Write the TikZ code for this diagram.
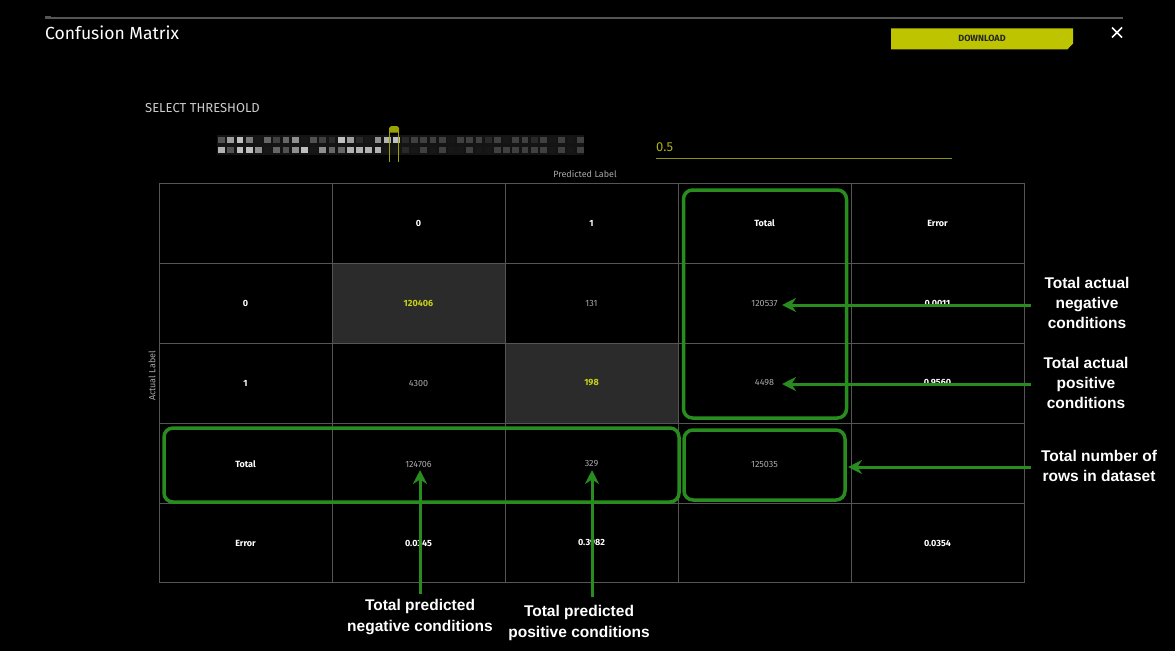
\documentclass[tikz,border=0pt]{standalone}
\usepackage{fontspec}
\setmainfont{Fira Sans}
\newfontfamily\annfont{Liberation Sans}
\usetikzlibrary{arrows.meta}
\definecolor{grn}{RGB}{40,140,30}
\definecolor{lime}{RGB}{190,197,0}
\definecolor{ylw}{RGB}{200,210,20}
\definecolor{gridc}{RGB}{85,85,85}
\definecolor{cellg}{RGB}{43,43,43}
\definecolor{handlec}{RGB}{155,163,0}
\definecolor{valc}{RGB}{170,170,170}
\tikzset{
  hdr/.style={font=\bfseries\fontsize{9}{10}\selectfont, text=white, inner sep=1pt},
  val/.style={font=\fontsize{9}{10}\selectfont, text=valc, inner sep=1pt},
  diagv/.style={font=\bfseries\fontsize{9}{10}\selectfont, text=ylw, inner sep=1pt},
  gbox/.style={draw=grn, line width=3.5pt, rounded corners=9pt},
  garr/.style={draw=grn, line width=3pt, -{Stealth[length=14pt,width=14pt,inset=4.5pt]}},
  ann/.style={font=\annfont\bfseries\fontsize{15.5}{20.3}\selectfont, text=white, align=center, inner sep=0pt},
  gridl/.style={draw=gridc, line width=0.9pt}
}
\begin{document}
\begin{tikzpicture}[x=1pt,y=-1pt]
\fill[black] (0,0) rectangle (1175,651);
\useasboundingbox (0,0) rectangle (1175,651);
% header
\draw[gridc, line width=1.5pt] (45,18) -- (1123,18);
\fill[gridc] (45,16) rectangle (51,18);
\node[anchor=west, text=white, font=\fontsize{17.5}{19}\selectfont, inner sep=0pt] (title) at (45,33) {Confusion Matrix};
\fill[lime] (891,28.3) -- (1073,28.3) -- (1073,43.5) -- (1067.5,49.3) -- (891,49.3) -- cycle;
\node[font=\bfseries\fontsize{9}{10}\selectfont, text=black!85, inner sep=0pt] (dl) at (982,38.8) {DOWNLOAD};
\coordinate (x1) at (1112,27.5); \coordinate (x2) at (1122,37.5);
\coordinate (x3) at (1112,37.5); \coordinate (x4) at (1122,27.5);
\draw[white, line width=1.6pt] (x1) -- (x2) (x3) -- (x4);
% threshold
\node[anchor=west, text=white!80!black, font=\fontsize{13}{14}\selectfont, inner sep=0pt] (sel) at (145,108) {SELECT THRESHOLD};
\fill[black!92!white] (217,135) rectangle (584,155);
\foreach \g [count=\i] in {32,62,75,48,9,40,25,40,56,9,32,25,16,75,62,16,9,56,70,75,16,25,25,25,25,9,25,25,25,16,25,9,25,25,16,25,9,25,9,25}{
  \fill[white!\g!black] ({221.7+(\i-1)*9.19-3.4},136.6) rectangle ++(6.8,6.8);
}
\foreach \g [count=\i] in {70,32,75,75,56,9,40,32,56,75,9,56,40,40,70,70,70,70,9,9,16,9,25,9,25,9,9,25,9,9,25,25,25,25,25,25,9,25,9,25}{
  \fill[white!\g!black] ({221.7+(\i-1)*9.19-3.4},146.6) rectangle ++(6.8,6.8);
}
\fill[handlec] (389,132.5) -- (389,128) -- (391,126) -- (397,126) -- (399,128) -- (399,132.5) -- cycle;
\draw[handlec, line width=1.4pt] (389.5,132) -- (389.5,162) (398.5,132) -- (398.5,162);
\node[anchor=west, text=ylw!85!black, font=\fontsize{13}{14}\selectfont, inner sep=0pt] (thr) at (656,147) {0.5};
\draw[ylw!70!black, line width=1pt] (656,158) -- (952,158);
% labels
\node[text=valc, font=\fontsize{9}{10}\selectfont, inner sep=0pt] (pl) at (585,174) {Predicted Label};
\node[text=valc, font=\fontsize{9}{10}\selectfont, inner sep=0pt, rotate=90] (al) at (152,376) {Actual Label};
% table fills
\fill[cellg] (332,263) rectangle (505,343);
\fill[cellg] (505,343) rectangle (678,423);
% grid
\draw[gridl] (159,183) rectangle (1024,582);
\foreach \x in {332,505,678,851} \draw[gridl] (\x,183) -- (\x,582);
\foreach \y in {263,343,423,503} \draw[gridl] (159,\y) -- (1024,\y);
% row 0
\node[hdr] (c01) at (418.5,223) {0};
\node[hdr] (c02) at (591.5,223) {1};
\node[hdr] (c03) at (764.5,223) {Total};
\node[hdr] (c04) at (937.5,223) {Error};
% row 1
\node[hdr] (c10) at (245.5,303) {0};
\node[diagv] (c11) at (418.5,303) {120406};
\node[val] (c12) at (591.5,303) {131};
\node[val] (c13) at (764.5,303) {120537};
\node[hdr] (c14) at (937.5,303) {0.0011};
% row 2
\node[hdr] (c20) at (245.5,383) {1};
\node[val] (c21) at (418.5,383) {4300};
\node[diagv] (c22) at (591.5,383) {198};
\node[val] (c23) at (764.5,383) {4498};
\node[hdr] (c24) at (937.5,383) {0.9560};
% row 3
\node[hdr] (c30) at (245.5,464) {Total};
\node[val] (c31) at (418.5,464) {124706};
\node[val] (c32) at (591.5,464) {329};
\node[val] (c33) at (764.5,464) {125035};
% row 4
\node[hdr] (c40) at (245.5,543) {Error};
\node[hdr] (c41) at (418.5,543) {0.0345};
\node[hdr] (c42) at (591.5,543) {0.3982};
\node[hdr] (c44) at (937.5,543) {0.0354};
% green boxes
\draw[gbox] (683.5,190) rectangle (846.5,418);
\draw[gbox] (164,428) rectangle (679,502);
\draw[gbox] (684,430) rectangle (845,500);
% annotations
\node[ann] (tneg) at (1087,303) {Total actual\\negative\\conditions};
\node[ann] (tpos) at (1086,383) {Total actual\\positive\\conditions};
\node[ann] (trows) at (1099,466) {Total number of\\rows in dataset};
\node[ann] (pneg) at (420,617) {Total predicted\\negative conditions};
\node[ann] (ppos) at (579,623) {Total predicted\\positive conditions};
% arrow endpoints
\coordinate (s1) at (1031,305); \coordinate (e1) at (782,305);
\coordinate (s2) at (1031,384); \coordinate (e2) at (782,384);
\coordinate (s3) at (1031,467); \coordinate (e3) at (848,467);
\coordinate (s4) at (420,594); \coordinate (e4) at (420,470);
\coordinate (s5) at (592,597); \coordinate (e5) at (592,470);
\draw[garr] (s1) -- (e1);
\draw[garr] (s2) -- (e2);
\draw[garr] (s3) -- (e3);
\draw[garr] (s4) -- (e4);
\draw[garr] (s5) -- (e5);
\end{tikzpicture}
\end{document}
